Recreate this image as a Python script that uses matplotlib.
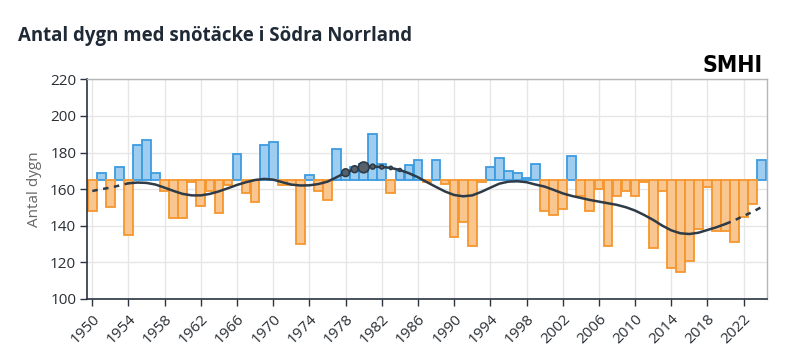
import matplotlib
matplotlib.use("Agg")
import matplotlib.pyplot as plt
import numpy as np

years = list(range(1950, 2025))
snow_days = [148, 169, 150, 172, 135, 184, 187, 169, 159, 144,
             144, 164, 151, 159, 147, 162, 179, 158, 153, 184,
             186, 162, 162, 130, 168, 159, 154, 182, 169, 172,
             174, 190, 174, 158, 170, 173, 176, 164, 176, 163,
             134, 142, 129, 164, 172, 177, 170, 169, 166, 174,
             148, 146, 149, 178, 156, 148, 160, 129, 156, 159,
             156, 164, 128, 159, 117, 115, 121, 138, 161, 137,
             137, 131, 145, 152, 176]
smooth = [159.0, 160.0, 160.8, 162.0, 163.2, 163.6, 163.4, 162.5, 160.8, 159.0,
          157.4, 156.6, 156.6, 157.4, 158.8, 160.5, 162.3, 163.8, 165.0, 165.6,
          165.2, 163.8, 162.5, 162.0, 162.1, 162.8, 164.1, 166.5, 169.0, 170.9,
          171.9, 172.3, 172.1, 171.6, 170.5, 168.7, 166.5, 163.8, 161.2, 158.7,
          156.8, 156.1, 156.6, 158.5, 160.8, 163.0, 164.1, 164.3, 163.8, 162.5,
          161.4, 159.6, 157.7, 156.3, 155.2, 154.1, 153.2, 152.3, 151.4, 150.1,
          148.3, 145.9, 143.2, 140.1, 137.5, 135.9, 135.5, 136.2, 137.7, 139.2,
          141.0, 143.0, 145.4, 147.6, 150.3]
baseline = 165
marker_years = [1978, 1979, 1980, 1981, 1982, 1983, 1984]
marker_sizes = [30, 24, 60, 12, 8, 5, 4]
xtick_years = list(range(1950, 2023, 4))
ytick_vals = list(range(100, 221, 20))
title = "Antal dygn med snötäcke i Södra Norrland"
ylabel = "Antal dygn"

plt.rcParams['font.family'] = ['Open Sans', 'DejaVu Sans']

W, H = 805, 364
fig = plt.figure(figsize=(W / 100, H / 100), dpi=100)
ax = fig.add_axes([87.3 / W, 1 - 299 / H, (766.7 - 87.3) / W, (299 - 79.3) / H])

yrs = np.array(years)
vals = np.array(snow_days, dtype=float)
above = vals >= baseline
ax.bar(yrs[above], vals[above] - baseline, bottom=baseline, width=0.96,
       color='#9fcdf0', edgecolor='#3d9be0', linewidth=1.3, zorder=2)
ax.bar(yrs[~above], vals[~above] - baseline, bottom=baseline, width=0.96,
       color='#f9c690', edgecolor='#f5962e', linewidth=1.3, zorder=2)

sm = np.array(smooth)
i0 = years.index(1954)
i1 = years.index(2020)
ax.plot(yrs[i0:i1 + 1], sm[i0:i1 + 1], color='#2e3b46', lw=1.8, zorder=4,
        solid_capstyle='round')
ax.plot(yrs[:i0 + 1], sm[:i0 + 1], color='#2e3b46', lw=1.8, ls=(0, (2.2, 2.2)), zorder=4)
ax.plot(yrs[i1:], sm[i1:], color='#2e3b46', lw=1.8, ls=(0, (2.2, 2.2)), zorder=4)

my = [smooth[years.index(y)] for y in marker_years]
ax.scatter(marker_years, my, s=marker_sizes, facecolor='#56616b',
           edgecolor='#2e3b46', linewidth=1.2, zorder=5)

ax.set_xlim(1949.45, 2024.55)
ax.set_ylim(100, 220)
ax.set_xticks(xtick_years)
ax.set_xticklabels([str(y) for y in xtick_years], rotation=45, ha='right',
                   rotation_mode='anchor', fontsize=11, color='#2a2f35')
ax.set_yticks(ytick_vals)
ax.set_yticklabels([str(v) for v in ytick_vals], fontsize=11, color='#2a2f35')
ax.grid(True, color='#e6e6e6', lw=1, zorder=0)
ax.set_axisbelow(True)
ax.tick_params(axis='both', direction='out', length=5, width=1, color='#2a3440', pad=3)
ax.tick_params(axis='x', pad=4)
for s in ['left', 'bottom']:
    ax.spines[s].set_color('#2a3440')
    ax.spines[s].set_linewidth(1.2)
for s in ['top', 'right']:
    ax.spines[s].set_color('#b5b5b5')
    ax.spines[s].set_linewidth(1.0)
ax.set_ylabel(ylabel, fontsize=11, color='#666666', labelpad=6)

fig.text(18 / W, 1 - 36 / H, title, fontsize=13.4, fontweight='bold',
         color='#1f2a36', ha='left', va='center')
fig.text(763 / W, 1 - 66 / H, "SMHI", family='DejaVu Sans', fontstretch='condensed',
         fontsize=16.5, fontweight='heavy', color='black', ha='right', va='center')

fig.savefig('out.png', dpi=100)
